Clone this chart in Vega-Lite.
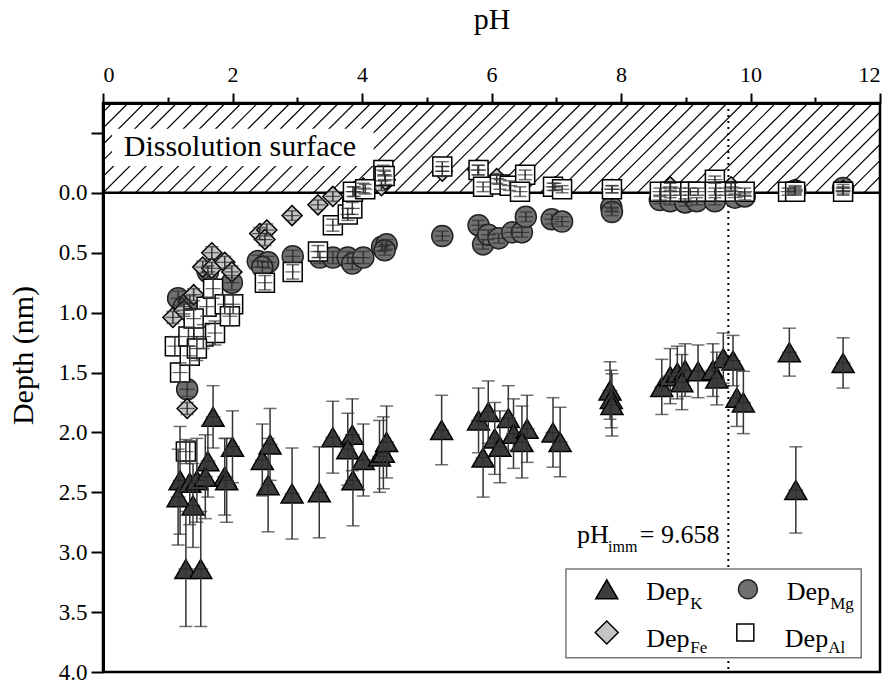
{
  "$schema": "https://vega.github.io/schema/vega-lite/v6.json",
  "width": 777,
  "height": 569,
  "autosize": {"type": "none"},
  "padding": {"left": 103, "top": 103, "right": 12, "bottom": 11},
  "background": "white",
  "config": {
    "view": {"stroke": "black", "strokeWidth": 2.5},
    "font": "Liberation Serif",
    "text": {"font": "Liberation Serif", "color": "black"}
  },
  "datasets": {
    "one": [{}],
    "pts": [
      {"s": "K", "pH": 1.28, "d": 3.14, "e": 0.48},
      {"s": "K", "pH": 1.51, "d": 3.14, "e": 0.48},
      {"s": "K", "pH": 1.70, "d": 1.87, "e": 0.26},
      {"s": "K", "pH": 2.00, "d": 2.12, "e": 0.30},
      {"s": "K", "pH": 1.62, "d": 2.24, "e": 0.30},
      {"s": "K", "pH": 1.88, "d": 2.37, "e": 0.32},
      {"s": "K", "pH": 1.91, "d": 2.40, "e": 0.35},
      {"s": "K", "pH": 1.19, "d": 2.40, "e": 0.45},
      {"s": "K", "pH": 1.16, "d": 2.54, "e": 0.40},
      {"s": "K", "pH": 1.39, "d": 2.61, "e": 0.35},
      {"s": "K", "pH": 1.34, "d": 2.42, "e": 0.35},
      {"s": "K", "pH": 1.45, "d": 2.40, "e": 0.35},
      {"s": "K", "pH": 1.58, "d": 2.37, "e": 0.35},
      {"s": "K", "pH": 2.46, "d": 2.23, "e": 0.30},
      {"s": "K", "pH": 2.58, "d": 2.10, "e": 0.30},
      {"s": "K", "pH": 2.55, "d": 2.44, "e": 0.39},
      {"s": "K", "pH": 2.92, "d": 2.51, "e": 0.38},
      {"s": "K", "pH": 3.34, "d": 2.50, "e": 0.38},
      {"s": "K", "pH": 3.55, "d": 2.04, "e": 0.30},
      {"s": "K", "pH": 3.85, "d": 2.02, "e": 0.30},
      {"s": "K", "pH": 3.78, "d": 2.14, "e": 0.30},
      {"s": "K", "pH": 4.02, "d": 2.23, "e": 0.30},
      {"s": "K", "pH": 3.86, "d": 2.40, "e": 0.38},
      {"s": "K", "pH": 4.27, "d": 2.20, "e": 0.30},
      {"s": "K", "pH": 4.33, "d": 2.17, "e": 0.30},
      {"s": "K", "pH": 4.38, "d": 2.08, "e": 0.30},
      {"s": "K", "pH": 5.23, "d": 1.98, "e": 0.29},
      {"s": "K", "pH": 5.80, "d": 1.90, "e": 0.27},
      {"s": "K", "pH": 5.95, "d": 1.83, "e": 0.26},
      {"s": "K", "pH": 5.87, "d": 2.21, "e": 0.33},
      {"s": "K", "pH": 6.26, "d": 1.88, "e": 0.27},
      {"s": "K", "pH": 6.05, "d": 2.05, "e": 0.30},
      {"s": "K", "pH": 6.13, "d": 2.12, "e": 0.30},
      {"s": "K", "pH": 6.34, "d": 2.01, "e": 0.29},
      {"s": "K", "pH": 6.55, "d": 1.97, "e": 0.28},
      {"s": "K", "pH": 6.47, "d": 2.08, "e": 0.30},
      {"s": "K", "pH": 6.95, "d": 2.00, "e": 0.29},
      {"s": "K", "pH": 7.06, "d": 2.08, "e": 0.29},
      {"s": "K", "pH": 7.83, "d": 1.65, "e": 0.24},
      {"s": "K", "pH": 7.85, "d": 1.72, "e": 0.24},
      {"s": "K", "pH": 7.86, "d": 1.77, "e": 0.26},
      {"s": "K", "pH": 8.63, "d": 1.62, "e": 0.23},
      {"s": "K", "pH": 8.76, "d": 1.53, "e": 0.23},
      {"s": "K", "pH": 8.87, "d": 1.50, "e": 0.22},
      {"s": "K", "pH": 8.99, "d": 1.48, "e": 0.22},
      {"s": "K", "pH": 8.94, "d": 1.58, "e": 0.23},
      {"s": "K", "pH": 9.19, "d": 1.49, "e": 0.22},
      {"s": "K", "pH": 9.42, "d": 1.48, "e": 0.22},
      {"s": "K", "pH": 9.48, "d": 1.55, "e": 0.22},
      {"s": "K", "pH": 9.58, "d": 1.38, "e": 0.21},
      {"s": "K", "pH": 9.73, "d": 1.40, "e": 0.21},
      {"s": "K", "pH": 9.79, "d": 1.71, "e": 0.24},
      {"s": "K", "pH": 9.89, "d": 1.75, "e": 0.26},
      {"s": "K", "pH": 10.60, "d": 1.33, "e": 0.20},
      {"s": "K", "pH": 11.43, "d": 1.42, "e": 0.21},
      {"s": "K", "pH": 10.70, "d": 2.48, "e": 0.36},
      {"s": "Mg", "pH": 1.16, "d": 0.88, "e": 0.06},
      {"s": "Mg", "pH": 1.25, "d": 0.95, "e": 0.06},
      {"s": "Mg", "pH": 1.34, "d": 0.92, "e": 0.06},
      {"s": "Mg", "pH": 1.30, "d": 1.64, "e": 0.06},
      {"s": "Mg", "pH": 1.62, "d": 0.66, "e": 0.05},
      {"s": "Mg", "pH": 1.99, "d": 0.75, "e": 0.06},
      {"s": "Mg", "pH": 2.39, "d": 0.57, "e": 0.05},
      {"s": "Mg", "pH": 2.55, "d": 0.58, "e": 0.05},
      {"s": "Mg", "pH": 2.46, "d": 0.62, "e": 0.05},
      {"s": "Mg", "pH": 2.93, "d": 0.53, "e": 0.05},
      {"s": "Mg", "pH": 3.35, "d": 0.54, "e": 0.05},
      {"s": "Mg", "pH": 3.55, "d": 0.54, "e": 0.05},
      {"s": "Mg", "pH": 3.78, "d": 0.54, "e": 0.05},
      {"s": "Mg", "pH": 3.85, "d": 0.59, "e": 0.05},
      {"s": "Mg", "pH": 4.02, "d": 0.54, "e": 0.05},
      {"s": "Mg", "pH": 4.31, "d": 0.45, "e": 0.04},
      {"s": "Mg", "pH": 4.38, "d": 0.43, "e": 0.04},
      {"s": "Mg", "pH": 4.35, "d": 0.48, "e": 0.04},
      {"s": "Mg", "pH": 5.24, "d": 0.36, "e": 0.04},
      {"s": "Mg", "pH": 5.80, "d": 0.27, "e": 0.04},
      {"s": "Mg", "pH": 5.87, "d": 0.43, "e": 0.04},
      {"s": "Mg", "pH": 5.95, "d": 0.35, "e": 0.04},
      {"s": "Mg", "pH": 6.11, "d": 0.38, "e": 0.04},
      {"s": "Mg", "pH": 6.32, "d": 0.33, "e": 0.04},
      {"s": "Mg", "pH": 6.47, "d": 0.33, "e": 0.04},
      {"s": "Mg", "pH": 6.53, "d": 0.20, "e": 0.04},
      {"s": "Mg", "pH": 6.93, "d": 0.22, "e": 0.04},
      {"s": "Mg", "pH": 7.09, "d": 0.24, "e": 0.04},
      {"s": "Mg", "pH": 7.85, "d": 0.12, "e": 0.03},
      {"s": "Mg", "pH": 7.86, "d": 0.16, "e": 0.03},
      {"s": "Mg", "pH": 8.60, "d": 0.06, "e": 0.03},
      {"s": "Mg", "pH": 8.76, "d": 0.07, "e": 0.03},
      {"s": "Mg", "pH": 8.99, "d": 0.08, "e": 0.03},
      {"s": "Mg", "pH": 9.17, "d": 0.07, "e": 0.03},
      {"s": "Mg", "pH": 9.45, "d": 0.07, "e": 0.03},
      {"s": "Mg", "pH": 9.76, "d": 0.04, "e": 0.03},
      {"s": "Mg", "pH": 9.91, "d": 0.03, "e": 0.03},
      {"s": "Mg", "pH": 10.69, "d": -0.02, "e": 0.03},
      {"s": "Mg", "pH": 11.43, "d": -0.04, "e": 0.03},
      {"s": "Fe", "pH": 1.08, "d": 1.04, "e": 0.05},
      {"s": "Fe", "pH": 1.25, "d": 0.98, "e": 0.05},
      {"s": "Fe", "pH": 1.40, "d": 0.85, "e": 0.05},
      {"s": "Fe", "pH": 1.30, "d": 1.80, "e": 0.05},
      {"s": "Fe", "pH": 1.68, "d": 0.50, "e": 0.05},
      {"s": "Fe", "pH": 1.54, "d": 0.62, "e": 0.05},
      {"s": "Fe", "pH": 1.68, "d": 0.63, "e": 0.05},
      {"s": "Fe", "pH": 1.88, "d": 0.58, "e": 0.05},
      {"s": "Fe", "pH": 1.99, "d": 0.66, "e": 0.05},
      {"s": "Fe", "pH": 2.42, "d": 0.34, "e": 0.05},
      {"s": "Fe", "pH": 2.53, "d": 0.31, "e": 0.05},
      {"s": "Fe", "pH": 2.50, "d": 0.39, "e": 0.05},
      {"s": "Fe", "pH": 2.92, "d": 0.19, "e": 0.04},
      {"s": "Fe", "pH": 3.32, "d": 0.10, "e": 0.04},
      {"s": "Fe", "pH": 3.55, "d": 0.03, "e": 0.04},
      {"s": "Fe", "pH": 3.88, "d": -0.01, "e": 0.04},
      {"s": "Fe", "pH": 4.02, "d": -0.04, "e": 0.04},
      {"s": "Fe", "pH": 4.30, "d": -0.06, "e": 0.04},
      {"s": "Fe", "pH": 4.36, "d": -0.11, "e": 0.04},
      {"s": "Fe", "pH": 5.24, "d": -0.18, "e": 0.04},
      {"s": "Fe", "pH": 5.79, "d": -0.19, "e": 0.04},
      {"s": "Fe", "pH": 6.08, "d": -0.12, "e": 0.04},
      {"s": "Fe", "pH": 6.98, "d": -0.05, "e": 0.03},
      {"s": "Fe", "pH": 7.86, "d": -0.03, "e": 0.03},
      {"s": "Fe", "pH": 8.76, "d": -0.05, "e": 0.03},
      {"s": "Fe", "pH": 9.70, "d": -0.05, "e": 0.03},
      {"s": "Fe", "pH": 10.69, "d": -0.03, "e": 0.03},
      {"s": "Fe", "pH": 11.43, "d": -0.02, "e": 0.03},
      {"s": "Al", "pH": 1.19, "d": 1.50, "e": 0.08},
      {"s": "Al", "pH": 1.11, "d": 1.28, "e": 0.08},
      {"s": "Al", "pH": 1.32, "d": 1.20, "e": 0.08},
      {"s": "Al", "pH": 1.34, "d": 1.36, "e": 0.08},
      {"s": "Al", "pH": 1.55, "d": 1.20, "e": 0.10},
      {"s": "Al", "pH": 1.73, "d": 1.17, "e": 0.10},
      {"s": "Al", "pH": 1.60, "d": 0.95, "e": 0.08},
      {"s": "Al", "pH": 1.70, "d": 0.80, "e": 0.08},
      {"s": "Al", "pH": 1.88, "d": 0.93, "e": 0.08},
      {"s": "Al", "pH": 2.01, "d": 0.93, "e": 0.08},
      {"s": "Al", "pH": 1.96, "d": 1.03, "e": 0.08},
      {"s": "Al", "pH": 1.45, "d": 1.30, "e": 0.10},
      {"s": "Al", "pH": 1.40, "d": 1.05, "e": 0.08},
      {"s": "Al", "pH": 1.28, "d": 2.16, "e": 0.10},
      {"s": "Al", "pH": 2.50, "d": 0.75, "e": 0.06},
      {"s": "Al", "pH": 2.93, "d": 0.66, "e": 0.06},
      {"s": "Al", "pH": 3.32, "d": 0.49, "e": 0.05},
      {"s": "Al", "pH": 3.55, "d": 0.27, "e": 0.05},
      {"s": "Al", "pH": 3.78, "d": 0.18, "e": 0.05},
      {"s": "Al", "pH": 3.85, "d": 0.13, "e": 0.05},
      {"s": "Al", "pH": 3.86, "d": -0.01, "e": 0.04},
      {"s": "Al", "pH": 4.05, "d": -0.03, "e": 0.04},
      {"s": "Al", "pH": 4.33, "d": -0.19, "e": 0.04},
      {"s": "Al", "pH": 4.35, "d": -0.14, "e": 0.04},
      {"s": "Al", "pH": 5.24, "d": -0.22, "e": 0.04},
      {"s": "Al", "pH": 5.80, "d": -0.19, "e": 0.04},
      {"s": "Al", "pH": 5.87, "d": -0.05, "e": 0.04},
      {"s": "Al", "pH": 6.13, "d": -0.07, "e": 0.04},
      {"s": "Al", "pH": 6.28, "d": -0.06, "e": 0.04},
      {"s": "Al", "pH": 6.52, "d": -0.15, "e": 0.04},
      {"s": "Al", "pH": 6.44, "d": -0.01, "e": 0.04},
      {"s": "Al", "pH": 6.95, "d": -0.05, "e": 0.03},
      {"s": "Al", "pH": 7.09, "d": -0.03, "e": 0.03},
      {"s": "Al", "pH": 7.86, "d": -0.03, "e": 0.03},
      {"s": "Al", "pH": 8.60, "d": -0.01, "e": 0.03},
      {"s": "Al", "pH": 8.76, "d": -0.01, "e": 0.03},
      {"s": "Al", "pH": 8.91, "d": -0.01, "e": 0.03},
      {"s": "Al", "pH": 9.07, "d": -0.01, "e": 0.03},
      {"s": "Al", "pH": 9.19, "d": -0.01, "e": 0.03},
      {"s": "Al", "pH": 9.45, "d": -0.11, "e": 0.03},
      {"s": "Al", "pH": 9.45, "d": -0.01, "e": 0.03},
      {"s": "Al", "pH": 9.61, "d": -0.01, "e": 0.03},
      {"s": "Al", "pH": 9.76, "d": -0.01, "e": 0.03},
      {"s": "Al", "pH": 9.91, "d": -0.01, "e": 0.03},
      {"s": "Al", "pH": 10.58, "d": -0.01, "e": 0.03},
      {"s": "Al", "pH": 10.69, "d": -0.01, "e": 0.03},
      {"s": "Al", "pH": 11.43, "d": -0.01, "e": 0.03}
    ],
    "hatch": [
      {"a": -1.5}, {"a": -1.25}, {"a": -1.0}, {"a": -0.75}, {"a": -0.5}, {"a": -0.25},
      {"a": 0.0}, {"a": 0.25}, {"a": 0.5}, {"a": 0.75}, {"a": 1.0}, {"a": 1.25},
      {"a": 1.5}, {"a": 1.75}, {"a": 2.0}, {"a": 2.25}, {"a": 2.5}, {"a": 2.75},
      {"a": 3.0}, {"a": 3.25}, {"a": 3.5}, {"a": 3.75}, {"a": 4.0}, {"a": 4.25},
      {"a": 4.5}, {"a": 4.75}, {"a": 5.0}, {"a": 5.25}, {"a": 5.5}, {"a": 5.75},
      {"a": 6.0}, {"a": 6.25}, {"a": 6.5}, {"a": 6.75}, {"a": 7.0}, {"a": 7.25},
      {"a": 7.5}, {"a": 7.75}, {"a": 8.0}, {"a": 8.25}, {"a": 8.5}, {"a": 8.75},
      {"a": 9.0}, {"a": 9.25}, {"a": 9.5}, {"a": 9.75}, {"a": 10.0}, {"a": 10.25},
      {"a": 10.5}, {"a": 10.75}, {"a": 11.0}, {"a": 11.25}, {"a": 11.5}, {"a": 11.75}
    ]
  },
  "layer": [
    {
      "data": {"name": "hatch"},
      "mark": {"type": "rule", "color": "black", "strokeWidth": 1.2, "clip": true, "x2Offset": 90},
      "encoding": {
        "x": {
          "field": "a", "type": "quantitative", "title": "pH",
          "scale": {"domain": [0, 12], "nice": false, "zero": false},
          "axis": {
            "orient": "top", "title": "pH",
            "values": [0, 1, 2, 3, 4, 5, 6, 7, 8, 9, 10, 11, 12],
            "format": "d",
            "labelExpr": "datum.value % 2 == 0 ? format(datum.value, 'd') : ''",
            "tickSize": {"condition": {"test": "datum.value % 2 == 0", "value": 10}, "value": 6},
            "grid": false, "domainWidth": 3, "domainColor": "black",
            "tickColor": "black", "tickWidth": 2, "labelOverlap": false,
            "labelFont": "Liberation Serif", "labelFontSize": 22, "labelColor": "black", "labelPadding": 7,
            "titleFont": "Liberation Serif", "titleFontSize": 30, "titleFontWeight": "normal", "titleColor": "black", "titlePadding": 29
          }
        },
        "x2": {"field": "a"},
        "y": {
          "datum": 0, "type": "quantitative", "title": "Depth (nm)",
          "scale": {"domain": [-0.75, 4], "reverse": true, "nice": false, "zero": false},
          "axis": {
            "title": "Depth (nm)",
            "values": [-0.5, -0.25, 0, 0.25, 0.5, 0.75, 1, 1.25, 1.5, 1.75, 2, 2.25, 2.5, 2.75, 3, 3.25, 3.5, 3.75, 4],
            "labelExpr": "datum.value >= 0 && abs(datum.value * 2 - round(datum.value * 2)) < 0.001 ? format(datum.value, '.1f') : ''",
            "tickSize": {"condition": {"test": "abs(datum.value * 2 - round(datum.value * 2)) < 0.001", "value": 12}, "value": 8},
            "grid": false, "domainWidth": 3, "domainColor": "black",
            "tickColor": "black", "tickWidth": 2, "labelOverlap": false,
            "labelFont": "Liberation Serif", "labelFontSize": 23, "labelColor": "black", "labelPadding": 4,
            "titleFont": "Liberation Serif", "titleFontSize": 30, "titleFontWeight": "normal", "titleColor": "black", "titlePadding": 20, "titleY": 252
          }
        },
        "y2": {"datum": -0.75}
      }
    },
    {
      "data": {"name": "one"},
      "mark": {"type": "rect", "fill": "white", "stroke": null},
      "encoding": {
        "x": {"datum": 0.14, "type": "quantitative"},
        "x2": {"datum": 4.18},
        "y": {"datum": -0.535, "type": "quantitative"},
        "y2": {"datum": -0.225}
      }
    },
    {
      "data": {"name": "one"},
      "mark": {"type": "text", "text": "Dissolution surface", "fontSize": 30, "align": "left", "baseline": "alphabetic"},
      "encoding": {
        "x": {"datum": 0.32, "type": "quantitative"},
        "y": {"datum": -0.31, "type": "quantitative"}
      }
    },
    {
      "data": {"name": "one"},
      "mark": {"type": "rule", "color": "black", "strokeWidth": 2.5},
      "encoding": {
        "x": {"datum": 0, "type": "quantitative"},
        "x2": {"datum": 12},
        "y": {"datum": 0, "type": "quantitative"}
      }
    },
    {
      "data": {"name": "one"},
      "mark": {"type": "rule", "color": "black", "strokeWidth": 2, "strokeDash": [2, 4]},
      "encoding": {
        "x": {"datum": 9.658, "type": "quantitative"},
        "y": {"datum": -0.75, "type": "quantitative"},
        "y2": {"datum": 4}
      }
    },
    {
      "data": {"name": "pts"},
      "mark": {"type": "point", "filled": true, "strokeWidth": 1.5, "opacity": 1},
      "encoding": {
        "x": {"field": "pH", "type": "quantitative", "title": "pH"},
        "y": {"field": "d", "type": "quantitative", "title": "Depth (nm)"},
        "shape": {"field": "s", "type": "nominal", "scale": {"domain": ["K", "Mg", "Fe", "Al"], "range": ["triangle-up", "circle", "diamond", "square"]}, "legend": null},
        "fill": {"field": "s", "type": "nominal", "scale": {"domain": ["K", "Mg", "Fe", "Al"], "range": ["#3d3d3d", "#707070", "#c4c4c4", "#ffffff"]}, "legend": null},
        "stroke": {"field": "s", "type": "nominal", "scale": {"domain": ["K", "Mg", "Fe", "Al"], "range": ["#000000", "#222222", "#000000", "#000000"]}, "legend": null},
        "size": {"field": "s", "type": "nominal", "scale": {"domain": ["K", "Mg", "Fe", "Al"], "range": [484, 361, 529, 289]}, "legend": null}
      }
    },
    {
      "data": {"name": "pts"},
      "mark": {"type": "errorbar", "ticks": {"size": 13}, "color": "#333333", "thickness": 1.5},
      "encoding": {
        "x": {"field": "pH", "type": "quantitative", "title": "pH"},
        "y": {"field": "d", "type": "quantitative", "title": "Depth (nm)"},
        "yError": {"field": "e"}
      }
    },
    {
      "data": {"name": "pts"},
      "mark": {"type": "tick", "orient": "horizontal", "size": 15, "thickness": 1.2, "color": "#222222"},
      "encoding": {
        "x": {"field": "pH", "type": "quantitative", "title": "pH"},
        "y": {"field": "d", "type": "quantitative", "title": "Depth (nm)"}
      }
    },
    {
      "data": {"name": "one"},
      "mark": {"type": "text", "text": "pH", "fontSize": 26, "align": "left", "baseline": "alphabetic"},
      "encoding": {"x": {"datum": 7.32, "type": "quantitative"}, "y": {"datum": 2.92, "type": "quantitative"}}
    },
    {
      "data": {"name": "one"},
      "mark": {"type": "text", "text": "imm", "fontSize": 16, "align": "left", "baseline": "alphabetic"},
      "encoding": {"x": {"datum": 7.80, "type": "quantitative"}, "y": {"datum": 3.0, "type": "quantitative"}}
    },
    {
      "data": {"name": "one"},
      "mark": {"type": "text", "text": "= 9.658", "fontSize": 26, "align": "left", "baseline": "alphabetic"},
      "encoding": {"x": {"datum": 8.29, "type": "quantitative"}, "y": {"datum": 2.92, "type": "quantitative"}}
    },
    {
      "data": {"name": "one"},
      "mark": {"type": "rect", "fill": "white", "stroke": "#777777", "strokeWidth": 1.5},
      "encoding": {
        "x": {"datum": 7.15, "type": "quantitative"},
        "x2": {"datum": 11.71},
        "y": {"datum": 3.14, "type": "quantitative"},
        "y2": {"datum": 3.88}
      }
    },
    {
      "data": {"name": "one"},
      "mark": {"type": "point", "shape": "triangle-up", "filled": true, "fill": "#3d3d3d", "stroke": "black", "strokeWidth": 1.5, "size": 484, "opacity": 1},
      "encoding": {"x": {"datum": 7.78, "type": "quantitative"}, "y": {"datum": 3.31, "type": "quantitative"}}
    },
    {
      "data": {"name": "one"},
      "mark": {"type": "point", "shape": "circle", "filled": true, "fill": "#707070", "stroke": "#222222", "strokeWidth": 1.5, "size": 361, "opacity": 1},
      "encoding": {"x": {"datum": 9.96, "type": "quantitative"}, "y": {"datum": 3.31, "type": "quantitative"}}
    },
    {
      "data": {"name": "one"},
      "mark": {"type": "point", "shape": "diamond", "filled": true, "fill": "#c4c4c4", "stroke": "black", "strokeWidth": 1.5, "size": 529, "opacity": 1},
      "encoding": {"x": {"datum": 7.78, "type": "quantitative"}, "y": {"datum": 3.67, "type": "quantitative"}}
    },
    {
      "data": {"name": "one"},
      "mark": {"type": "point", "shape": "square", "filled": true, "fill": "white", "stroke": "black", "strokeWidth": 1.5, "size": 289, "opacity": 1},
      "encoding": {"x": {"datum": 9.92, "type": "quantitative"}, "y": {"datum": 3.67, "type": "quantitative"}}
    },
    {
      "data": {"name": "one"},
      "mark": {"type": "text", "text": "Dep", "fontSize": 26, "align": "left", "baseline": "alphabetic"},
      "encoding": {"x": {"datum": 8.39, "type": "quantitative"}, "y": {"datum": 3.40, "type": "quantitative"}}
    },
    {
      "data": {"name": "one"},
      "mark": {"type": "text", "text": "K", "fontSize": 17, "align": "left", "baseline": "alphabetic"},
      "encoding": {"x": {"datum": 9.07, "type": "quantitative"}, "y": {"datum": 3.47, "type": "quantitative"}}
    },
    {
      "data": {"name": "one"},
      "mark": {"type": "text", "text": "Dep", "fontSize": 26, "align": "left", "baseline": "alphabetic"},
      "encoding": {"x": {"datum": 10.56, "type": "quantitative"}, "y": {"datum": 3.40, "type": "quantitative"}}
    },
    {
      "data": {"name": "one"},
      "mark": {"type": "text", "text": "Mg", "fontSize": 17, "align": "left", "baseline": "alphabetic"},
      "encoding": {"x": {"datum": 11.23, "type": "quantitative"}, "y": {"datum": 3.47, "type": "quantitative"}}
    },
    {
      "data": {"name": "one"},
      "mark": {"type": "text", "text": "Dep", "fontSize": 26, "align": "left", "baseline": "alphabetic"},
      "encoding": {"x": {"datum": 8.39, "type": "quantitative"}, "y": {"datum": 3.79, "type": "quantitative"}}
    },
    {
      "data": {"name": "one"},
      "mark": {"type": "text", "text": "Fe", "fontSize": 17, "align": "left", "baseline": "alphabetic"},
      "encoding": {"x": {"datum": 9.07, "type": "quantitative"}, "y": {"datum": 3.84, "type": "quantitative"}}
    },
    {
      "data": {"name": "one"},
      "mark": {"type": "text", "text": "Dep", "fontSize": 26, "align": "left", "baseline": "alphabetic"},
      "encoding": {"x": {"datum": 10.53, "type": "quantitative"}, "y": {"datum": 3.79, "type": "quantitative"}}
    },
    {
      "data": {"name": "one"},
      "mark": {"type": "text", "text": "Al", "fontSize": 17, "align": "left", "baseline": "alphabetic"},
      "encoding": {"x": {"datum": 11.20, "type": "quantitative"}, "y": {"datum": 3.84, "type": "quantitative"}}
    }
  ]
}
